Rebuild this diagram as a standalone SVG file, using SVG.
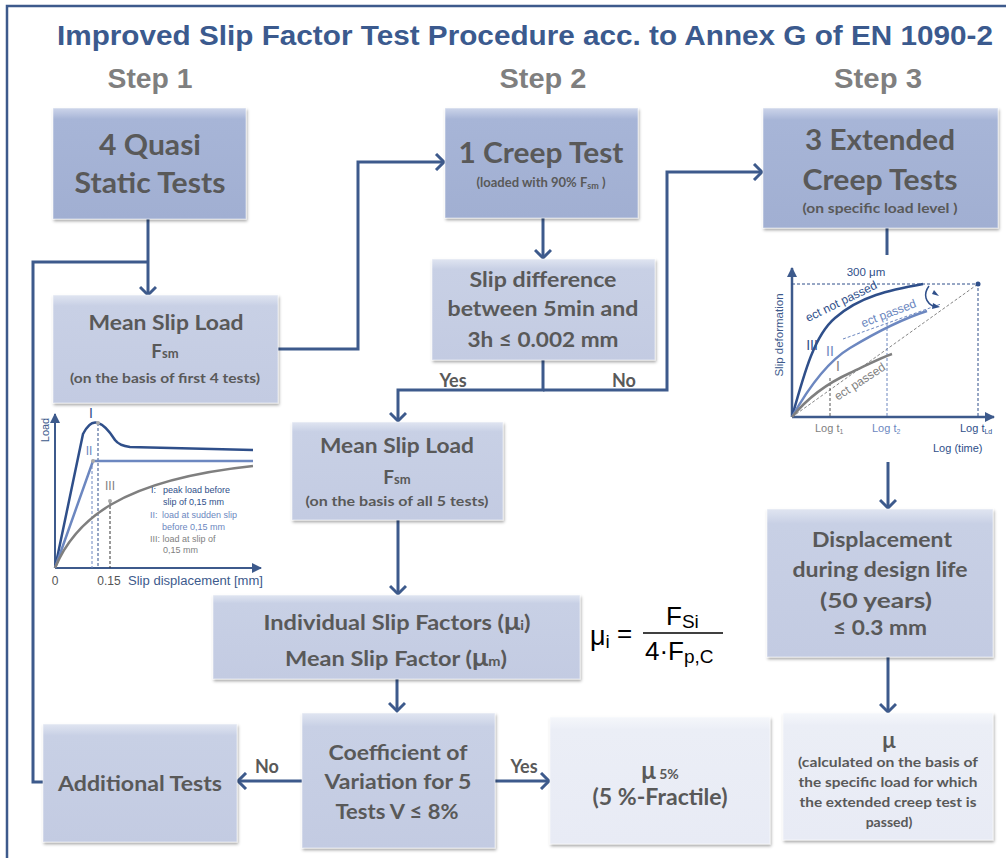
<svg xmlns="http://www.w3.org/2000/svg" width="1006" height="858" viewBox="0 0 1006 858">
  <defs>
    <linearGradient id="gDark" x1="0" y1="0" x2="0" y2="1">
      <stop offset="0" stop-color="#cdd5ea"/>
      <stop offset="0.1" stop-color="#a7b5d7"/>
      <stop offset="1" stop-color="#a1afd2"/>
    </linearGradient>
    <linearGradient id="gMid" x1="0" y1="0" x2="0" y2="1">
      <stop offset="0" stop-color="#e0e5f1"/>
      <stop offset="0.1" stop-color="#c8d0e5"/>
      <stop offset="1" stop-color="#c3cbe2"/>
    </linearGradient>
    <linearGradient id="gLight" x1="0" y1="0" x2="0" y2="1">
      <stop offset="0" stop-color="#f5f7fb"/>
      <stop offset="0.1" stop-color="#ebeef6"/>
      <stop offset="1" stop-color="#e8ebf5"/>
    </linearGradient>
    <filter id="shadow" x="-5%" y="-5%" width="115%" height="120%">
      <feDropShadow dx="1" dy="2" stdDeviation="1.5" flood-color="#000" flood-opacity="0.35"/>
    </filter>
    <marker id="chev" markerUnits="userSpaceOnUse" viewBox="0 0 20 18" markerWidth="20" markerHeight="18" refX="10" refY="9" orient="auto">
      <path d="M2,1 L10,9 L2,17" fill="none" stroke="#3d5a8c" stroke-width="3"/>
    </marker>
    <marker id="ax" markerUnits="userSpaceOnUse" viewBox="0 0 10 10" markerWidth="10" markerHeight="10" refX="9" refY="5" orient="auto">
      <path d="M0,0 L10,5 L0,10 Z" fill="#3d5a8c"/>
    </marker>
    <style>
      .box text { font-family: Lato, "Open Sans", sans-serif; font-weight: 700; fill: #595959; text-anchor: middle; }
      .box rect { stroke: #ffffff; stroke-opacity: 0.5; stroke-width: 1; filter: url(#shadow); }
      .conn path { fill: none; stroke: #3d5a8c; stroke-width: 3; }
      .lbl { font-family: Lato, "Open Sans", sans-serif; font-weight: 700; fill: #595959; font-size: 18px; text-anchor: middle; }
      .ch { font-family: "Liberation Sans", Arial, sans-serif; }
      .step { font-family: "Liberation Sans Narrow", "Liberation Sans", Arial, sans-serif; font-weight: 700; fill: #7f7f7f; font-size: 27px; text-anchor: middle; }
      .dk { fill: #2f4f8a; }
      .lt { fill: #6c87c0; }
      .gy { fill: #7f7f7f; }
    </style>
  </defs>

  <rect width="1006" height="858" fill="#ffffff"/>
  <!-- outer frame -->
  <rect x="7" y="6" width="1020" height="880" fill="none" stroke="#3d5a8c" stroke-width="2.5"/>

  <!-- heading -->
  <text x="525" y="45" text-anchor="middle" textLength="936" lengthAdjust="spacingAndGlyphs" font-size="28.5" font-weight="700" fill="#3b5a8e" font-family="'Liberation Sans Narrow', 'Liberation Sans', Arial, sans-serif">Improved Slip Factor Test Procedure acc. to Annex G of EN 1090-2</text>
  <text class="step" x="150" y="88" textLength="85" lengthAdjust="spacingAndGlyphs">Step 1</text>
  <text class="step" x="543" y="88" textLength="87" lengthAdjust="spacingAndGlyphs">Step 2</text>
  <text class="step" x="878" y="88" textLength="88" lengthAdjust="spacingAndGlyphs">Step 3</text>

  <!-- connectors -->
  <g id="connectors" class="conn">
    <path d="M148,219 V295" marker-end="url(#chev)"/>
    <path d="M43,782 H33 V262 H148"/>
    <path d="M278,349 H358 V162 H444" marker-end="url(#chev)"/>
    <path d="M543,218 V258" marker-end="url(#chev)"/>
    <path d="M543,360 V390 H398 V421" marker-end="url(#chev)"/>
    <path d="M543,390 H667 V172 H762" marker-end="url(#chev)"/>
    <path d="M398,520 V594" marker-end="url(#chev)"/>
    <path d="M397,679 V711" marker-end="url(#chev)"/>
    <path d="M302,781 H238" marker-end="url(#chev)"/>
    <path d="M495,781 H549" marker-end="url(#chev)"/>
    <path d="M887,228 V255"/>
    <path d="M888,462 V508" marker-end="url(#chev)"/>
    <path d="M888,657 V712" marker-end="url(#chev)"/>
    <text class="lbl" x="453" y="387">Yes</text>
    <text class="lbl" x="624" y="387">No</text>
    <text class="lbl" x="267" y="773">No</text>
    <text class="lbl" x="524" y="773">Yes</text>
  </g>

  <!-- Step 1 -->
  <g id="quasi-static-tests" class="box">
    <rect x="53" y="108" width="193" height="111" fill="url(#gDark)"/>
    <text x="150" y="155" font-size="28" textLength="102" lengthAdjust="spacingAndGlyphs">4 Quasi</text>
    <text x="150" y="193" font-size="28" textLength="151" lengthAdjust="spacingAndGlyphs">Static Tests</text>
  </g>

  <g id="mean-slip-load-4" class="box">
    <rect x="53" y="295" width="225" height="108" fill="url(#gMid)"/>
    <text x="166" y="330" font-size="21" textLength="155" lengthAdjust="spacingAndGlyphs">Mean Slip Load</text>
    <text x="165" y="358" font-size="19">F<tspan font-size="13">sm</tspan></text>
    <text x="165" y="383" font-size="13.5" textLength="190" lengthAdjust="spacingAndGlyphs">(on the basis of first 4 tests)</text>
  </g>

  <g id="additional-tests" class="box">
    <rect x="43" y="724" width="194" height="118" fill="url(#gMid)"/>
    <text x="140" y="791" font-size="21" textLength="164" lengthAdjust="spacingAndGlyphs">Additional Tests</text>
  </g>

  <!-- load / slip chart -->
  <g id="load-slip-chart" class="ch">
    <path d="M55,568 V414" stroke="#3d5a8c" stroke-width="2" marker-end="url(#ax)"/>
    <path d="M55,568 H261" stroke="#3d5a8c" stroke-width="2" marker-end="url(#ax)"/>
    <path d="M92,461 V568" stroke="#6c87c0" stroke-width="1" stroke-dasharray="3,2"/>
    <path d="M98,423 V568" stroke="#2f4f8a" stroke-width="1" stroke-dasharray="3,2"/>
    <path d="M110,501 V568" stroke="#333333" stroke-width="1" stroke-dasharray="3,2"/>
    <path d="M55,568 L83,434 C88,424 93,421 98,423 C105,425 110,432 115,440 C118,444 122,446 130,447 L253,450" fill="none" stroke="#2f4f8a" stroke-width="2.5"/>
    <path d="M55,568 L93,461 L253,461" fill="none" stroke="#6c87c0" stroke-width="2.5"/>
    <path d="M55,568 C75,520 120,480 253,466" fill="none" stroke="#7f7f7f" stroke-width="2.5"/>
    <circle cx="98" cy="423" r="2" fill="#aaaaaa"/>
    <circle cx="93" cy="461" r="2" fill="#aaaaaa"/>
    <circle cx="110" cy="501" r="2" fill="#aaaaaa"/>
    <text x="91" y="418" font-size="14" fill="#2f4f8a" text-anchor="middle">I</text>
    <text x="89" y="455" font-size="12" class="lt" text-anchor="middle">II</text>
    <text x="110" y="490" font-size="12" class="gy" text-anchor="middle">III</text>
    <text x="151" y="493" font-size="9" class="dk">I:</text>
    <text x="163" y="493" font-size="9" class="dk">peak load before</text>
    <text x="163" y="505" font-size="9" class="dk">slip of 0,15 mm</text>
    <text x="150" y="518" font-size="9" class="lt">II:</text>
    <text x="162" y="518" font-size="9" class="lt">load at sudden slip</text>
    <text x="162" y="530" font-size="9" class="lt">before 0,15 mm</text>
    <text x="150" y="542" font-size="9" class="gy">III: load at slip of</text>
    <text x="163" y="553" font-size="9" class="gy">0,15 mm</text>
    <text transform="translate(49,430) rotate(-90)" font-size="11" fill="#3d5a8c" text-anchor="middle">Load</text>
    <text x="55" y="585" font-size="12" fill="#555555" text-anchor="middle">0</text>
    <text x="109" y="585" font-size="12" fill="#555555" text-anchor="middle">0.15</text>
    <text x="128" y="585" font-size="12" fill="#3d5a8c" textLength="135" lengthAdjust="spacingAndGlyphs">Slip displacement [mm]</text>
  </g>

  <!-- Step 2 -->
  <g id="creep-test" class="box">
    <rect x="445" y="108" width="193" height="110" fill="url(#gDark)"/>
    <text x="541" y="163" font-size="28" textLength="165" lengthAdjust="spacingAndGlyphs">1 Creep Test</text>
    <text x="541" y="187" font-size="13">(loaded with 90% F<tspan font-size="9" dy="2">sm</tspan><tspan dy="-2"> )</tspan></text>
  </g>

  <g id="slip-difference" class="box">
    <rect x="432" y="259" width="223" height="101" fill="url(#gMid)"/>
    <text x="543" y="287" font-size="21" textLength="147" lengthAdjust="spacingAndGlyphs">Slip difference</text>
    <text x="543" y="316" font-size="21" textLength="191" lengthAdjust="spacingAndGlyphs">between 5min and</text>
    <text x="543" y="347" font-size="21" textLength="151" lengthAdjust="spacingAndGlyphs">3h ≤ 0.002 mm</text>
  </g>

  <g id="mean-slip-load-5" class="box">
    <rect x="292" y="422" width="211" height="98" fill="url(#gMid)"/>
    <text x="397" y="453" font-size="21" textLength="154" lengthAdjust="spacingAndGlyphs">Mean Slip Load</text>
    <text x="397" y="484" font-size="19">F<tspan font-size="13">sm</tspan></text>
    <text x="397" y="506" font-size="13.5" textLength="183" lengthAdjust="spacingAndGlyphs">(on the basis of all 5 tests)</text>
  </g>

  <g id="slip-factors" class="box">
    <rect x="213" y="595" width="367" height="84" fill="url(#gMid)"/>
    <text x="397" y="630" font-size="21" textLength="267" lengthAdjust="spacingAndGlyphs">Individual Slip Factors (<tspan font-size="24">μ</tspan><tspan font-size="13">i</tspan>)</text>
    <text x="396" y="666" font-size="21" textLength="222" lengthAdjust="spacingAndGlyphs">Mean Slip Factor (<tspan font-size="24">μ</tspan><tspan font-size="13">m</tspan>)</text>
  </g>

  <g id="coefficient-of-variation" class="box">
    <rect x="302" y="713" width="193" height="135" fill="url(#gMid)"/>
    <text x="398" y="760" font-size="21" textLength="139" lengthAdjust="spacingAndGlyphs">Coefficient of</text>
    <text x="398" y="789" font-size="21" textLength="147" lengthAdjust="spacingAndGlyphs">Variation for 5</text>
    <text x="397" y="819" font-size="21" textLength="123" lengthAdjust="spacingAndGlyphs">Tests V ≤ 8%</text>
  </g>

  <g id="fractile" class="box">
    <rect x="550" y="717" width="220" height="127" fill="url(#gLight)"/>
    <text x="660" y="779" font-size="24">μ<tspan font-size="14"> 5%</tspan></text>
    <text x="660" y="805" font-size="22" textLength="135" lengthAdjust="spacingAndGlyphs">(5 %-Fractile)</text>
  </g>

  <!-- slip factor formula -->
  <g id="formula" class="ch" fill="#000000">
    <text x="590" y="645" font-size="27">μ<tspan font-size="19" dy="3">i</tspan></text>
    <text x="617" y="642" font-size="26">=</text>
    <path d="M643,633 H723" stroke="#000000" stroke-width="1.4"/>
    <text x="666" y="625" font-size="26">F<tspan font-size="19" dy="3">Si</tspan></text>
    <text x="645" y="660" font-size="26">4·F<tspan font-size="19" dy="3">p,C</tspan></text>
  </g>

  <!-- Step 3 -->
  <g id="extended-creep-tests" class="box">
    <rect x="763" y="108" width="235" height="120" fill="url(#gDark)"/>
    <text x="880" y="150" font-size="28" textLength="150" lengthAdjust="spacingAndGlyphs">3 Extended</text>
    <text x="880" y="190" font-size="28" textLength="155" lengthAdjust="spacingAndGlyphs">Creep Tests</text>
    <text x="880" y="213" font-size="13.5" textLength="155" lengthAdjust="spacingAndGlyphs">(on specific load level )</text>
  </g>

  <!-- creep chart -->
  <g id="creep-chart" class="ch">
    <path d="M792,417 V268" stroke="#3d5a8c" stroke-width="2.5" marker-end="url(#ax)"/>
    <path d="M792,417 H994" stroke="#3d5a8c" stroke-width="2.5" marker-end="url(#ax)"/>
    <path d="M792,284 H978 V417" fill="none" stroke="#2f4f8a" stroke-width="1" stroke-dasharray="3,2"/>
    <path d="M792,417 L978,284" stroke="#666666" stroke-width="0.8" stroke-dasharray="3,2"/>
    <path d="M843,339 L941,304" stroke="#6c87c0" stroke-width="1" stroke-dasharray="3,2"/>
    <path d="M830,378 V417" stroke="#555555" stroke-width="1" stroke-dasharray="3,2"/>
    <path d="M887,318 V417" stroke="#6c87c0" stroke-width="1" stroke-dasharray="3,2"/>
    <circle cx="978" cy="284" r="2.5" fill="#2f4f8a"/>
    <path d="M792,417 C805,370 815,335 835,318 C860,296 890,290 923,284" fill="none" stroke="#2f4f8a" stroke-width="2.5"/>
    <path d="M792,417 C810,385 830,360 850,348 C880,330 905,318 927,311" fill="none" stroke="#6c87c0" stroke-width="2.5"/>
    <path d="M792,417 C810,395 830,382 850,373 C865,366 880,358 892,354" fill="none" stroke="#7f7f7f" stroke-width="2.5"/>
    <path d="M929,286 C923,294 925,303 935,307" fill="none" stroke="#2f4f8a" stroke-width="1.5"/>
    <path d="M932,294 L939,296 L934,290 Z" fill="#2f4f8a"/>
    <path d="M933,303 L940,307 L932,309 Z" fill="#2f4f8a"/>
    <text x="866" y="276" font-size="11.5" fill="#2f4f8a" text-anchor="middle">300 μm</text>
    <text transform="translate(843,305) rotate(-26)" font-size="12" class="dk" text-anchor="middle">ect not passed</text>
    <text transform="translate(890,317) rotate(-21)" font-size="12" class="lt" text-anchor="middle">ect passed</text>
    <text transform="translate(862,385) rotate(-33)" font-size="12" class="gy" text-anchor="middle">ect passed</text>
    <text x="812" y="350" font-size="14" class="dk" text-anchor="middle">III</text>
    <text x="830" y="356" font-size="14" class="lt" text-anchor="middle">II</text>
    <text x="838" y="371" font-size="14" class="gy" text-anchor="middle">I</text>
    <text transform="translate(783,335) rotate(-90)" font-size="11.5" fill="#3d5a8c" text-anchor="middle">Slip deformation</text>
    <text x="815" y="432" font-size="11" fill="#7f7f7f">Log t<tspan font-size="7" dy="2">1</tspan></text>
    <text x="872" y="432" font-size="11" fill="#6c87c0">Log t<tspan font-size="7" dy="2">2</tspan></text>
    <text x="960" y="432" font-size="11" fill="#2f4f8a">Log t<tspan font-size="7" dy="2">Ld</tspan></text>
    <text x="933" y="452" font-size="11" fill="#2f4f8a">Log (time)</text>
  </g>

  <g id="displacement-design-life" class="box">
    <rect x="767" y="509" width="226" height="148" fill="url(#gMid)"/>
    <text x="882" y="547" font-size="21" textLength="140" lengthAdjust="spacingAndGlyphs">Displacement</text>
    <text x="880" y="577" font-size="21" textLength="175" lengthAdjust="spacingAndGlyphs">during design life</text>
    <text x="876" y="608" font-size="21" textLength="112" lengthAdjust="spacingAndGlyphs">(50 years)</text>
    <text x="880" y="635" font-size="21" textLength="94" lengthAdjust="spacingAndGlyphs">≤ 0.3 mm</text>
  </g>

  <g id="slip-factor-specific-load" class="box">
    <rect x="783" y="713" width="210" height="127" fill="url(#gLight)"/>
    <text x="889" y="748" font-size="22">μ</text>
    <text x="888" y="767" font-size="14" textLength="180" lengthAdjust="spacingAndGlyphs">(calculated on the basis of</text>
    <text x="888" y="787" font-size="14" textLength="179" lengthAdjust="spacingAndGlyphs">the specific load for which</text>
    <text x="888" y="807" font-size="14" textLength="177" lengthAdjust="spacingAndGlyphs">the extended creep test is</text>
    <text x="889" y="827" font-size="14">passed)</text>
  </g>
</svg>
